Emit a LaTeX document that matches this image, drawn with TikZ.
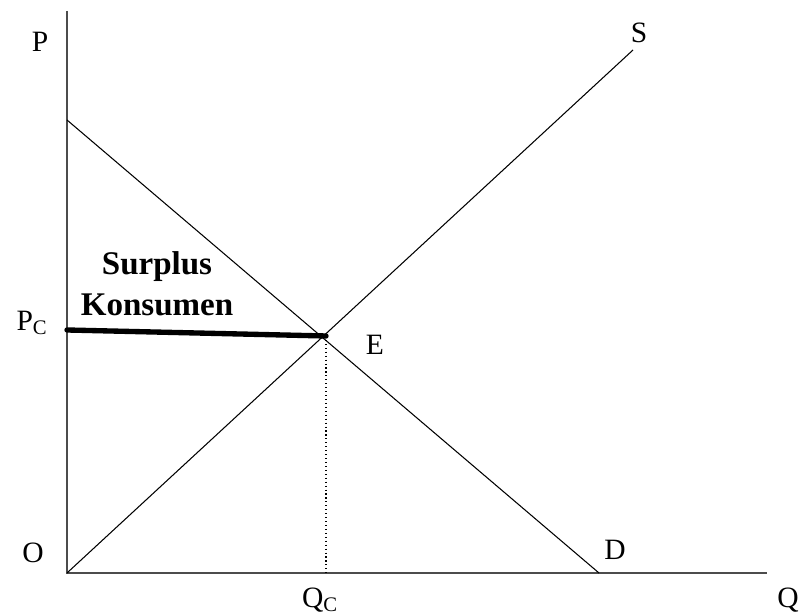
\documentclass[tikz,border=0pt]{standalone}
\usepackage{fontspec}
\setmainfont{Liberation Serif}
\begin{document}
\begin{tikzpicture}[x=0.025cm, y=0.025cm, font=\fontsize{21}{24}\selectfont,
  axis/.style={draw=black!70, line width=1.3pt},
  curve/.style={draw=black, line width=0.75pt},
  lbl/.style={inner sep=0pt}]
\useasboundingbox (0,0) rectangle (801,615);
% axes
\coordinate (o) at (67,42);
\coordinate (ptop) at (67,604);
\coordinate (qend) at (767,42);
\draw[axis] (ptop) -- (o) -- (qend);
% demand and supply
\coordinate (dtop) at (67,495);
\coordinate (dend) at (599,42);
\coordinate (send) at (633,565);
\coordinate (e) at (326,279);
\coordinate (pc) at (67,285);
\coordinate (qc) at (326,42);
\draw[curve] (dtop) -- (dend);
\draw[curve] (o) -- (send);
% consumer surplus price line
\draw[line width=3.8pt, line cap=round] (pc) -- (e);
\draw[dotted, line width=0.8pt] (e) -- (qc);
% labels
\node[lbl] (plbl) at (40,573) {P};
\node[lbl] (slbl) at (639,582) {S};
\node[lbl] (pclbl) at (32,292) {P\textsubscript{C}};
\node[lbl, font=\fontsize{23.5}{27}\selectfont\bfseries, align=center] (surplus) at (157,331) {Surplus\\[2pt]Konsumen};
\node[lbl] (elbl) at (375,270) {E};
\node[lbl] (olbl) at (33,62) {O};
\node[lbl] (dlbl) at (615,65) {D};
\node[lbl] (qclbl) at (320,15) {Q\textsubscript{C}};
\node[lbl] (qlbl) at (788,15) {Q};
\end{tikzpicture}
\end{document}
